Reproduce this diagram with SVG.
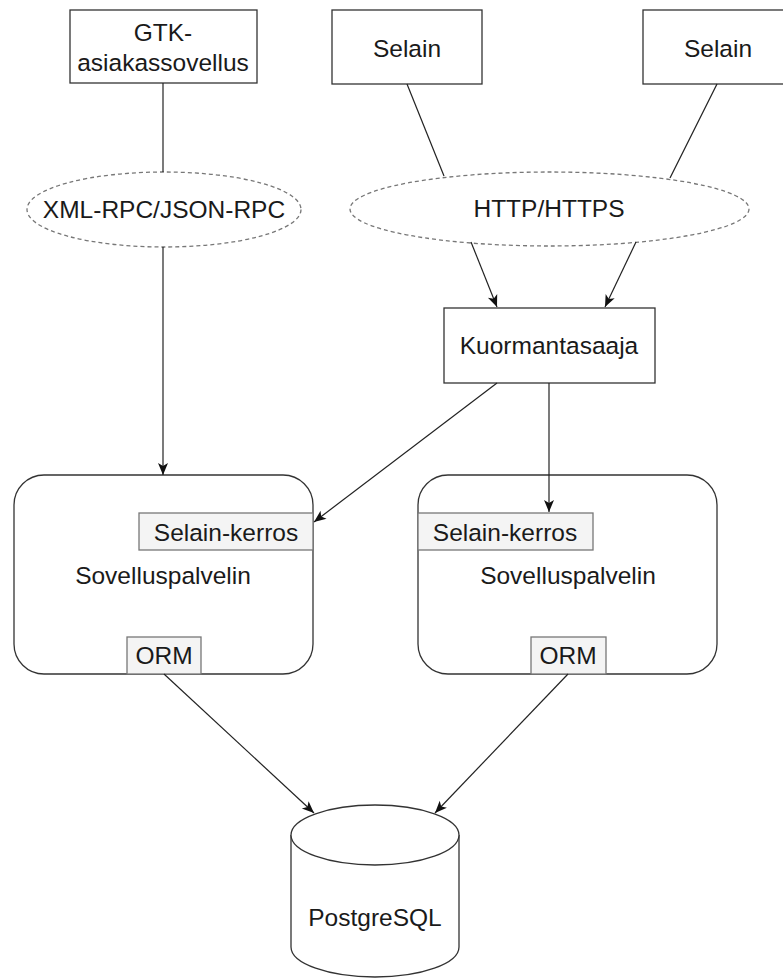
<svg xmlns="http://www.w3.org/2000/svg" width="783" height="978" viewBox="0 0 783 978">
<style>
text{font-family:"Liberation Sans",Arial,sans-serif;font-size:24.5px;fill:#1a1a1a;text-anchor:middle}
.box{fill:#fff;stroke:#333;stroke-width:1.3}
.sub{fill:#f4f4f4;stroke:#777;stroke-width:1.3}
.proto{fill:#fff;stroke:#777;stroke-width:1.3;stroke-dasharray:4 3}
.c{fill:none;stroke:#222;stroke-width:1.2}
.a{marker-end:url(#arr)}
</style>
<defs>
<marker id="arr" markerUnits="userSpaceOnUse" markerWidth="14" markerHeight="14" viewBox="0 0 14 14" refX="13" refY="7" orient="auto">
<path d="M1,2 L13,7 L1,12 L4,7 Z" fill="#111"/>
</marker>
</defs>
<g id="gtk">
<rect class="box" x="70" y="10" width="187" height="73"/>
<text x="163" y="41">GTK-</text>
<text x="163" y="71">asiakassovellus</text>
</g>
<g id="selain1">
<rect class="box" x="332" y="10" width="150" height="74"/>
<text x="407" y="57">Selain</text>
</g>
<g id="selain2">
<rect class="box" x="643" y="10" width="150" height="74"/>
<text x="718" y="57">Selain</text>
</g>
<g id="rpc">
<ellipse class="proto" cx="164" cy="209.5" rx="137" ry="37.5"/>
<text x="164" y="218">XML-RPC/JSON-RPC</text>
</g>
<g id="http">
<ellipse class="proto" cx="549.5" cy="209" rx="199.5" ry="37"/>
<text x="549" y="217">HTTP/HTTPS</text>
</g>
<g id="lb">
<rect class="box" x="444" y="308" width="211" height="75"/>
<text x="549" y="354">Kuormantasaaja</text>
</g>
<g id="server1">
<rect class="box" x="14" y="475" width="299" height="199" rx="30" ry="30"/>
<text x="163" y="584">Sovelluspalvelin</text>
<rect class="sub" x="139" y="513" width="174" height="37"/>
<text x="226" y="541">Selain-kerros</text>
<rect class="sub" x="127" y="637" width="74" height="37"/>
<text x="164" y="664">ORM</text>
</g>
<g id="server2">
<rect class="box" x="418" y="475" width="299" height="199" rx="30" ry="30"/>
<text x="568" y="584">Sovelluspalvelin</text>
<rect class="sub" x="418" y="513" width="175" height="37"/>
<text x="505" y="541">Selain-kerros</text>
<rect class="sub" x="531" y="637" width="75" height="37"/>
<text x="568" y="664">ORM</text>
</g>
<g id="db">
<path class="box" d="M291,835 A84,30 0 0 1 459,835 L459,947 A84,30 0 0 1 291,947 Z"/>
<path class="box" fill="none" d="M291,835 A84,30 0 0 0 459,835"/>
<text x="375" y="926">PostgreSQL</text>
</g>
<g id="connectors">
<line class="c" x1="163" y1="83" x2="163" y2="172"/>
<line class="c a" x1="163" y1="247" x2="163" y2="475"/>
<line class="c" x1="407" y1="84" x2="444" y2="176"/>
<line class="c" x1="717" y1="84" x2="670" y2="178"/>
<line class="c a" x1="471" y1="242" x2="497" y2="307"/>
<line class="c a" x1="636" y1="242" x2="605" y2="307"/>
<line class="c a" x1="497" y1="383" x2="314" y2="522"/>
<line class="c a" x1="549" y1="383" x2="549" y2="512"/>
<line class="c a" x1="164" y1="674" x2="314" y2="813"/>
<line class="c a" x1="568" y1="674" x2="435" y2="813"/>
</g>
</svg>
